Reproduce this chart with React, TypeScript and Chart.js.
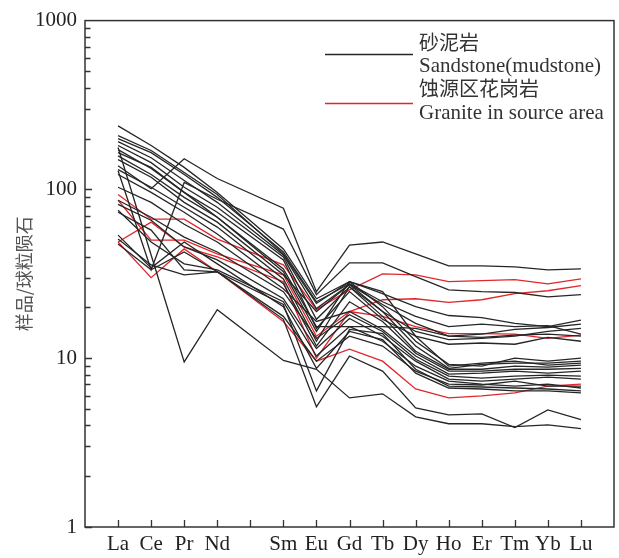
import React, { useEffect, useRef } from "react";
import { Chart, registerables } from "chart.js";

Chart.register(...registerables);

// Full REE sequence (Pm has a tick but no data / label)
const REE = ["La", "Ce", "Pr", "Nd", "Pm", "Sm", "Eu", "Gd", "Tb", "Dy", "Ho", "Er", "Tm", "Yb", "Lu"];
const TICK_LABELS = ["La", "Ce", "Pr", "Nd", "", "Sm", "Eu", "Gd", "Tb", "Dy", "Ho", "Er", "Tm", "Yb", "Lu"];
const PLOTTED = ["La", "Ce", "Pr", "Nd", "Sm", "Eu", "Gd", "Tb", "Dy", "Ho", "Er", "Tm", "Yb", "Lu"];
const Y_LABELS = [1, 10, 100, 1000];

const Y_TITLE = "样品/球粒陨石";
const LEGEND_SAND = ["砂泥岩", "Sandstone(mudstone)"];
const LEGEND_GRANITE = ["蚀源区花岗岩", "Granite in source area"];

// Sandstone (mudstone) samples, chondrite-normalised
const sand01 = [138, 101, 152, 116, 77.3, 24.8, 46.8, 48.8, 41.5, 35.2, 35.2, 34.8, 33.4, 33.8];
const sand02 = [129, 33.4, 110, 87.4, 58.2, 23.8, 36.7, 36.7, 30.4, 25.4, 24.8, 24.5, 23.1, 23.8];
const sand03 = [238, 182, 135, 96, 44.4, 22.5, 28.4, 24.1, 20.2, 17.9, 17.4, 16.1, 15.4, 16.8];
const sand04 = [200, 165, 122.5, 89.7, 42.6, 21.6, 27.6, 21.6, 17.7, 15.4, 15.9, 15.4, 15.6, 13.9];
const sand05 = [192, 154, 113, 83.8, 40.9, 19.7, 27.3, 20.8, 16.1, 13.5, 13.9, 14.8, 15.2, 15.9];
const sand06 = [182, 144, 103, 78.4, 39.8, 17.0, 26.5, 18.9, 14.4, 12.9, 13.1, 13.5, 14.4, 15.0];
const sand07 = [172, 133, 96, 73.2, 38.2, 15.0, 24.8, 17.0, 13.5, 12.1, 12.3, 12.1, 13.3, 12.6];
const sand08 = [158, 122.5, 89.7, 68.4, 33.8, 15.4, 15.4, 15.4, 15.0, 13.5, 13.3, 13.7, 13.9, 13.5];
const sand09 = [165, 135, 96, 68.4, 32.5, 14.4, 28.4, 20.2, 12.6, 9.2, 8.97, 10.0, 9.6, 10.0];
const sand10 = [150, 118, 83.8, 64.0, 31.2, 18.9, 27.3, 18.9, 11.8, 8.7, 9.2, 9.35, 9.35, 9.6];
const sand11 = [131, 103, 78.4, 59.8, 29.5, 12.6, 26.5, 17.7, 11.0, 8.6, 8.6, 8.97, 8.85, 9.1];
const sand12 = [122.5, 96, 73.2, 54.4, 27.6, 11.8, 21.6, 16.5, 10.7, 8.38, 8.38, 8.6, 8.6, 8.7];
const sand13 = [103, 83.8, 62.2, 48.8, 25.8, 16.5, 18.9, 14.8, 10.3, 8.05, 8.16, 8.38, 8.16, 8.38];
const sand14 = [86.2, 68.4, 52.2, 42.6, 24.8, 13.1, 18.1, 14.4, 9.85, 7.84, 7.63, 7.84, 7.94, 7.84];
const sand15 = [81.6, 65.7, 45.6, 38.2, 22.5, 11.4, 17.2, 13.5, 9.6, 7.52, 7.32, 7.52, 7.73, 7.52];
const sand16 = [75.2, 48.8, 36.2, 33.4, 21.6, 10.3, 15.4, 12.6, 8.97, 7.32, 7.03, 6.84, 7.03, 6.66];
const sand17 = [73.2, 57.4, 33.4, 32.5, 20.8, 6.4, 14.8, 14.0, 8.6, 6.84, 6.75, 6.66, 6.57, 6.4];
const sand18 = [53.6, 34.3, 48.8, 36.2, 20.2, 8.7, 14.4, 12.9, 8.16, 6.66, 6.57, 6.4, 6.4, 6.23];
const sand19 = [177, 40.9, 9.5, 19.4, 9.7, 8.6, 5.82, 6.15, 4.49, 4.09, 4.09, 3.93, 4.03, 3.83];
const sand20 = [47.5, 33.4, 42.6, 32.5, 17.0, 5.15, 10.3, 8.38, 5.08, 4.62, 4.68, 3.88, 4.94, 4.32];
const sand21 = [50.8, 35.7, 31.2, 32.5, 17.7, 9.6, 13.5, 11.8, 8.38, 7.03, 6.94, 7.32, 6.84, 6.84];
const sand22 = [208, 170, 126, 93.4, 41.5, 21.1, 28.4, 24.8, 13.5, 8.97, 9.35, 9.6, 9.1, 9.35];

// Granite in source area
const gran01 = [93.4, 66.6, 66.6, 50.8, 35.7, 19.4, 25.4, 31.6, 31.2, 28.4, 28.8, 29.2, 27.6, 29.5];
const gran02 = [86.2, 50.1, 50.1, 41.5, 31.2, 13.5, 18.9, 22.2, 22.5, 21.4, 22.2, 24.1, 25.1, 26.9];
const gran03 = [48.8, 64.0, 45.6, 39.8, 28.4, 10.0, 18.9, 17.7, 15.4, 14.0, 14.0, 13.9, 13.1, 13.7];
const gran04 = [48.8, 30.0, 44.4, 32.5, 16.5, 9.6, 11.3, 9.6, 6.57, 5.82, 5.98, 6.23, 6.84, 7.03];

const SANDSTONE = [sand01, sand02, sand03, sand04, sand05, sand06, sand07, sand08, sand09, sand10, sand11,
  sand12, sand13, sand14, sand15, sand16, sand17, sand18, sand19, sand20, sand21, sand22];
const GRANITE = [gran01, gran02, gran03, gran04];

const BLACK = "#262626";
const RED = "#e2262b";
const SERIF = '"Liberation Serif", "Times New Roman", serif';
const CJK = '"Noto Sans CJK SC", sans-serif';

function toPoints(values: number[]) {
  return values.map((v, i) => ({ x: REE.indexOf(PLOTTED[i]), y: v }));
}

const framePlugin = {
  id: "frameAndLegend",
  afterDatasetsDraw(chart: any) {
    const { ctx, chartArea: a, scales } = chart;
    const xs = scales.x;
    const ys = scales.y;
    ctx.save();
    ctx.strokeStyle = "#333";
    ctx.lineWidth = 1.5;
    ctx.strokeRect(a.left, a.top, a.right - a.left, a.bottom - a.top);

    ctx.lineWidth = 1.3;
    ctx.beginPath();
    for (let i = 0; i < REE.length; i++) {
      const px = Math.round(xs.getPixelForValue(i)) + 0.5;
      ctx.moveTo(px, a.bottom);
      ctx.lineTo(px, a.bottom - 7);
    }
    for (let d = 1; d < 1000; d *= 10) {
      for (let m = 1; m < 10; m++) {
        const py = Math.round(ys.getPixelForValue(m * d)) + 0.5;
        ctx.moveTo(a.left, py);
        ctx.lineTo(a.left + (m === 1 ? 7 : 5.5), py);
      }
    }
    ctx.stroke();

    // legend
    ctx.lineWidth = 1.3;
    ctx.strokeStyle = BLACK;
    ctx.beginPath();
    ctx.moveTo(325, 54.5);
    ctx.lineTo(413, 54.5);
    ctx.stroke();
    ctx.strokeStyle = RED;
    ctx.beginPath();
    ctx.moveTo(325, 103.5);
    ctx.lineTo(413, 103.5);
    ctx.stroke();

    ctx.fillStyle = "#333";
    ctx.textAlign = "left";
    ctx.textBaseline = "alphabetic";
    ctx.font = `20px ${CJK}`;
    ctx.fillText(LEGEND_SAND[0], 419, 50);
    ctx.fillText(LEGEND_GRANITE[0], 419, 96);
    ctx.font = `21px ${SERIF}`;
    ctx.fillText(LEGEND_SAND[1], 419, 72);
    ctx.fillText(LEGEND_GRANITE[1], 419, 119);
    ctx.restore();
  },
};

export default function App() {
  const ref = useRef<HTMLCanvasElement | null>(null);

  useEffect(() => {
    if (!ref.current) return;
    const datasets: any[] = [];
    SANDSTONE.forEach((s, i) =>
      datasets.push({
        label: i === 0 ? LEGEND_SAND[1] : "",
        data: toPoints(s),
        borderColor: BLACK,
        borderWidth: 1.3,
        pointRadius: 0,
        tension: 0,
        fill: false,
      })
    );
    GRANITE.forEach((s, i) =>
      datasets.push({
        label: i === 0 ? LEGEND_GRANITE[1] : "",
        data: toPoints(s),
        borderColor: RED,
        borderWidth: 1.3,
        pointRadius: 0,
        tension: 0,
        fill: false,
      })
    );

    const chart = new Chart(ref.current, {
      type: "line",
      data: { datasets },
      options: {
        animation: false,
        responsive: false,
        events: [],
        layout: { padding: { top: 17, right: 2, left: 0, bottom: 0 } },
        plugins: { legend: { display: false }, tooltip: { enabled: false } },
        scales: {
          x: {
            type: "linear",
            min: -1,
            max: 15,
            afterFit: (s: any) => { s.height = 31; },
            grid: { display: false, drawTicks: false },
            border: { display: false },
            ticks: {
              stepSize: 1,
              autoSkip: false,
              maxRotation: 0,
              maxTicksLimit: 40,
              padding: 5,
              color: "#222",
              font: { family: SERIF, size: 21 },
              callback: (v: any) => {
                const i = Number(v);
                return Number.isInteger(i) && i >= 0 && i < TICK_LABELS.length ? TICK_LABELS[i] : "";
              },
            },
          },
          y: {
            type: "logarithmic",
            min: 1,
            max: 1000,
            afterFit: (s: any) => { s.width = 85; },
            grid: { display: false, drawTicks: false },
            border: { display: false },
            title: {
              display: true,
              text: Y_TITLE,
              color: "#555",
              font: { family: CJK, size: 18 },
              padding: { top: 13, bottom: 0 },
            },
            ticks: {
              autoSkip: false,
              padding: 8,
              color: "#222",
              font: { family: SERIF, size: 21 },
              callback: (v: any) => (Y_LABELS.includes(Number(v)) ? String(v) : ""),
            },
          },
        },
      },
      plugins: [framePlugin],
    });
    return () => chart.destroy();
  }, []);

  return (
    <div style={{ position: "absolute", left: 0, top: 0, width: 619, height: 558, background: "#fff" }}>
      <canvas ref={ref} width={619} height={558} />
    </div>
  );
}
